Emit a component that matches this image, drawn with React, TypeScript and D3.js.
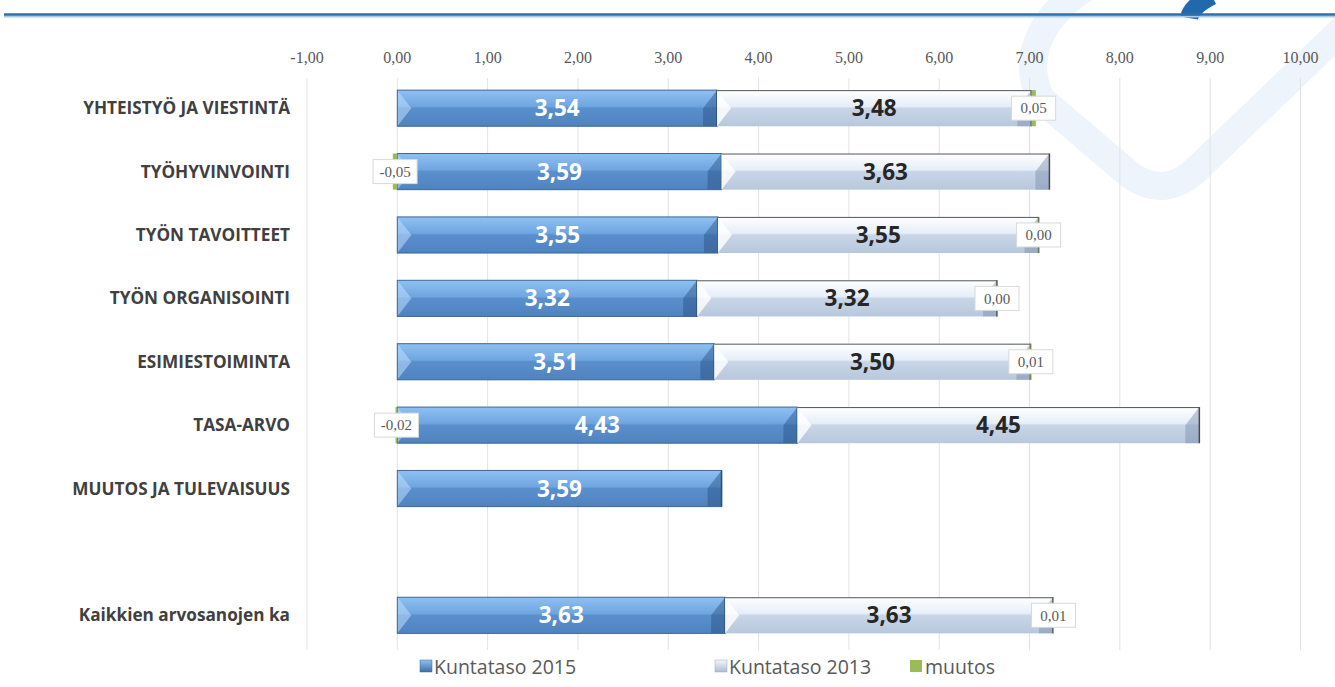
import React from "react";
import * as d3 from "d3";

const categories = [
  "YHTEISTYÖ JA VIESTINTÄ",
  "TYÖHYVINVOINTI",
  "TYÖN TAVOITTEET",
  "TYÖN ORGANISOINTI",
  "ESIMIESTOIMINTA",
  "TASA-ARVO",
  "MUUTOS JA TULEVAISUUS",
  "",
  "Kaikkien arvosanojen ka",
];
const v2015: (number | null)[] = [3.54, 3.59, 3.55, 3.32, 3.51, 4.43, 3.59, null, 3.63];
const v2013: (number | null)[] = [3.48, 3.63, 3.55, 3.32, 3.5, 4.45, null, null, 3.63];
const muutos: (number | null)[] = [0.05, -0.05, 0.0, 0.0, 0.01, -0.02, null, null, 0.01];
const xTicks = [-1, 0, 1, 2, 3, 4, 5, 6, 7, 8, 9, 10];
const legendItems = ["Kuntataso 2015", "Kuntataso 2013", "muutos"];

const fmt = (v: number) => v.toFixed(2).replace(".", ",");

export default function App() {
  const W = 1335;
  const H = 687;
  const x = d3.scaleLinear().domain([-1, 10]).range([307, 1300.5]);
  const y = d3
    .scaleBand<string>()
    .domain(categories.map((_, i) => String(i)))
    .range([76.5, 647])
    .paddingInner(0.43)
    .paddingOuter(0.215);
  const bh = y.bandwidth();

  const bevel = (x0: number, x1: number, y0: number, kind: "a" | "b") => {
    const y1 = y0 + bh;
    const b = Math.min(14, (x1 - x0) / 2);
    const light = kind === "a" ? "rgba(190,220,255,0.55)" : "rgba(255,255,255,0.8)";
    const dark = kind === "a" ? "rgba(40,80,130,0.45)" : "rgba(120,140,170,0.45)";
    return (
      <g>
        <polygon points={`${x0},${y0} ${x0 + b},${y0 + bh / 2} ${x0},${y1}`} fill={light} />
        <polygon
          points={`${x1},${y0} ${x1 - b},${y0 + bh / 2} ${x1 - b},${y1} ${x1},${y1}`}
          fill={dark}
        />
      </g>
    );
  };

  return (
    <svg
      width={W}
      height={H}
      style={{ position: "absolute", left: 0, top: 0, background: "#fff" }}
      fontFamily="'Open Sans', sans-serif"
    >
      <defs>
        <linearGradient id="g2015" x1="0" y1="0" x2="0" y2="1">
          <stop offset="0" stopColor="#8fc0f2" />
          <stop offset="0.45" stopColor="#6fa6e0" />
          <stop offset="0.5" stopColor="#5a8fcd" />
          <stop offset="1" stopColor="#4f83c0" />
        </linearGradient>
        <linearGradient id="g2013" x1="0" y1="0" x2="0" y2="1">
          <stop offset="0" stopColor="#ffffff" />
          <stop offset="0.45" stopColor="#e6eef9" />
          <stop offset="0.5" stopColor="#c9d6e8" />
          <stop offset="1" stopColor="#b8c7dc" />
        </linearGradient>
        <linearGradient id="leg1" x1="0" y1="0" x2="0" y2="1">
          <stop offset="0" stopColor="#8fc0f2" />
          <stop offset="1" stopColor="#3f6fa8" />
        </linearGradient>
        <linearGradient id="leg2" x1="0" y1="0" x2="0" y2="1">
          <stop offset="0" stopColor="#f4f8fd" />
          <stop offset="1" stopColor="#aebcd0" />
        </linearGradient>
      </defs>

      {/* watermark decoration */}
      <g fill="none" strokeLinecap="round">
        <path
          d="M 1090,-15 C 1040,15 1020,60 1042,100 L 1130,175 Q 1165,200 1198,168 L 1350,22"
          stroke="#eef4fb"
          strokeWidth={28}
        />
        <path d="M 1212,-4 C 1196,4 1190,12 1189,18" stroke="#2268ad" strokeWidth={18} strokeLinecap="butt" />
      </g>

      {/* top line */}
      <line x1={4} x2={1335} y1={16.5} y2={16.5} stroke="#a9cbe8" strokeWidth={2} />
      <line x1={4} x2={1335} y1={14.5} y2={14.5} stroke="#2f6fa8" strokeWidth={2.5} />

      {/* grid */}
      {xTicks.map((t) => (
        <line key={t} x1={x(t)} x2={x(t)} y1={78} y2={650} stroke="#e2e2e2" strokeWidth={1} />
      ))}
      {xTicks.map((t) => (
        <text
          key={"t" + t}
          x={x(t)}
          y={63}
          textAnchor="middle"
          fontFamily="'Liberation Serif', serif"
          fontSize={16}
          fill="#595959"
        >
          {fmt(t)}
        </text>
      ))}

      {/* category labels */}
      {categories.map((c, i) => (
        <text
          key={"c" + i}
          x={290}
          y={(y(String(i)) as number) + bh / 2}
          dy="0.35em"
          textAnchor="end"
          fontSize={17.2}
          fontWeight={700}
          fill="#404040"
        >
          {c}
        </text>
      ))}

      {/* bars */}
      {categories.map((_, i) => {
        const y0 = y(String(i)) as number;
        const a = v2015[i];
        const b = v2013[i];
        const m = muutos[i];
        const els: React.ReactNode[] = [];
        if (a != null) {
          const x0 = x(0);
          const x1 = x(a);
          els.push(
            <g key="a">
              <rect x={x0} y={y0} width={x1 - x0} height={bh} fill="url(#g2015)" />
              {bevel(x0, x1, y0, "a")}
              <rect x={x0} y={y0} width={x1 - x0} height={bh} fill="none" stroke="#3e6796" strokeWidth={1} />
              <line x1={x1} x2={x1} y1={y0} y2={y0 + bh} stroke="#2c4f78" strokeWidth={1.5} />
              <text
                x={(x0 + x1) / 2}
                y={y0 + bh / 2}
                dy="0.36em"
                textAnchor="middle"
                fontSize={22.5}
                fontWeight={700}
                fill="#ffffff"
              >
                {fmt(a)}
              </text>
            </g>
          );
        }
        if (a != null && b != null) {
          const x0 = x(a);
          const x1 = x(a + b);
          els.push(
            <g key="b">
              <rect x={x0} y={y0} width={x1 - x0} height={bh} fill="url(#g2013)" />
              {bevel(x0, x1, y0, "b")}
              <line x1={x0} x2={x1} y1={y0 + 0.5} y2={y0 + 0.5} stroke="#555" strokeWidth={1} />
              <line x1={x1} x2={x1} y1={y0} y2={y0 + bh} stroke="#4a4a4a" strokeWidth={1.5} />
              <text
                x={(x0 + x1) / 2}
                y={y0 + bh / 2}
                dy="0.36em"
                textAnchor="middle"
                fontSize={22.5}
                fontWeight={700}
                fill="#262626"
              >
                {fmt(b)}
              </text>
            </g>
          );
        }
        if (a != null && b != null && m != null) {
          let s0: number, s1: number;
          if (m >= 0) {
            s0 = x(a + b);
            s1 = x(a + b + m);
          } else {
            s0 = x(m);
            s1 = x(0);
          }
          const cx = (s0 + s1) / 2;
          els.push(
            <g key="m">
              <rect x={s0} y={y0} width={Math.max(s1 - s0, 0.5)} height={bh} fill="#9bbb59" />
              <rect
                x={cx - 22}
                y={y0 + bh / 2 - 12}
                width={44}
                height={24}
                fill="#ffffff"
                stroke="#d9d9d9"
                strokeWidth={1}
              />
              <text
                x={cx}
                y={y0 + bh / 2}
                dy="0.35em"
                textAnchor="middle"
                fontFamily="'Liberation Serif', serif"
                fontSize={15}
                fill="#595959"
              >
                {fmt(m)}
              </text>
            </g>
          );
        }
        return <g key={"r" + i}>{els}</g>;
      })}

      {/* legend */}
      <g fontSize={19.5} fill="#595959">
        <rect x={420} y={660} width={12} height={12} fill="url(#leg1)" stroke="#3e6796" strokeWidth={0.5} />
        <text x={434} y={674}>{legendItems[0]}</text>
        <rect x={715} y={660} width={12} height={12} fill="url(#leg2)" stroke="#9aa8bb" strokeWidth={0.5} />
        <text x={729} y={674}>{legendItems[1]}</text>
        <rect x={910} y={660} width={12} height={12} fill="#9bbb59" />
        <text x={925} y={674}>{legendItems[2]}</text>
      </g>
    </svg>
  );
}
